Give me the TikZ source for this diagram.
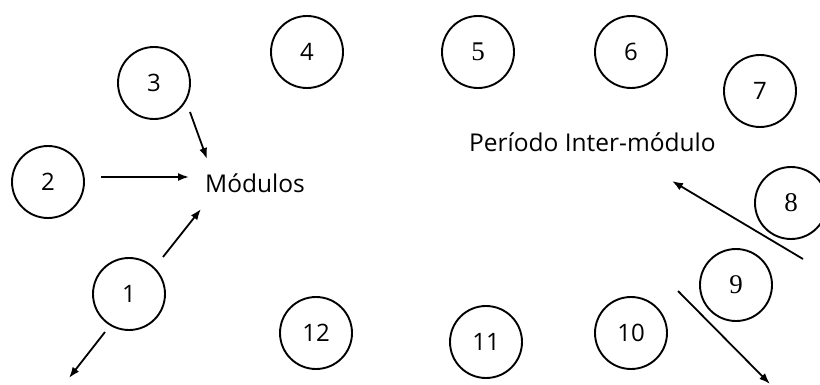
\documentclass[tikz,border=0pt]{standalone}
\usepackage{fontspec}
\setmainfont{Open Sans}
\newfontfamily\serifnum{Liberation Serif}
\usetikzlibrary{arrows.meta}
\newcommand\sdig[1]{{\serifnum\fontsize{27}{30}\selectfont #1}}
\begin{document}
\begin{tikzpicture}[x=1pt,y=-1pt,
  circ/.style={draw,circle,line width=1.9pt,minimum size=72pt,inner sep=0pt,
    font=\fontsize{24}{28}\selectfont},
  lbl/.style={inner sep=0pt,anchor=base west,font=\fontsize{24.5}{28}\selectfont},
  arr/.style={line width=1.8pt,-{Latex[length=11pt,width=8pt]}}]
\useasboundingbox (0,0) rectangle (820,385);
\node[circ] (c1) at (129,294) {1};
\node[circ] (c2) at (48,182) {2};
\node[circ] (c3) at (154,83) {3};
\node[circ] (c4) at (307,52) {4};
\node[circ] (c5) at (478,52) {\sdig{5}};
\node[circ] (c6) at (631,52) {6};
\node[circ] (c7) at (760,91) {7};
\node[circ] (c8) at (791,203) {\sdig{8}};
\node[circ] (c9) at (736,285) {\sdig{9}};
\node[circ] (c10) at (631,333) {10};
\node[circ] (c11) at (486,342) {11};
\node[circ] (c12) at (316,333) {12};
\node[lbl] (mod) at (205,193) {Módulos};
\node[lbl] (per) at (469,152) {Período Inter-módulo};
% arrow end points
\coordinate (a3s) at (190,112); \coordinate (a3e) at (207,159);
\coordinate (a2s) at (101,177); \coordinate (a2e) at (189,177);
\coordinate (a1s) at (163,257); \coordinate (a1e) at (201,209);
\coordinate (o1s) at (105,332); \coordinate (o1e) at (69,378);
\coordinate (a8s) at (803,259); \coordinate (a8e) at (672,181);
\coordinate (a9s) at (678,291); \coordinate (a9e) at (770,384);
\draw[arr] (a3s) -- (a3e);
\draw[arr] (a2s) -- (a2e);
\draw[arr] (a1s) -- (a1e);
\draw[arr] (o1s) -- (o1e);
\draw[arr] (a8s) -- (a8e);
\draw[arr] (a9s) -- (a9e);
\end{tikzpicture}
\end{document}
